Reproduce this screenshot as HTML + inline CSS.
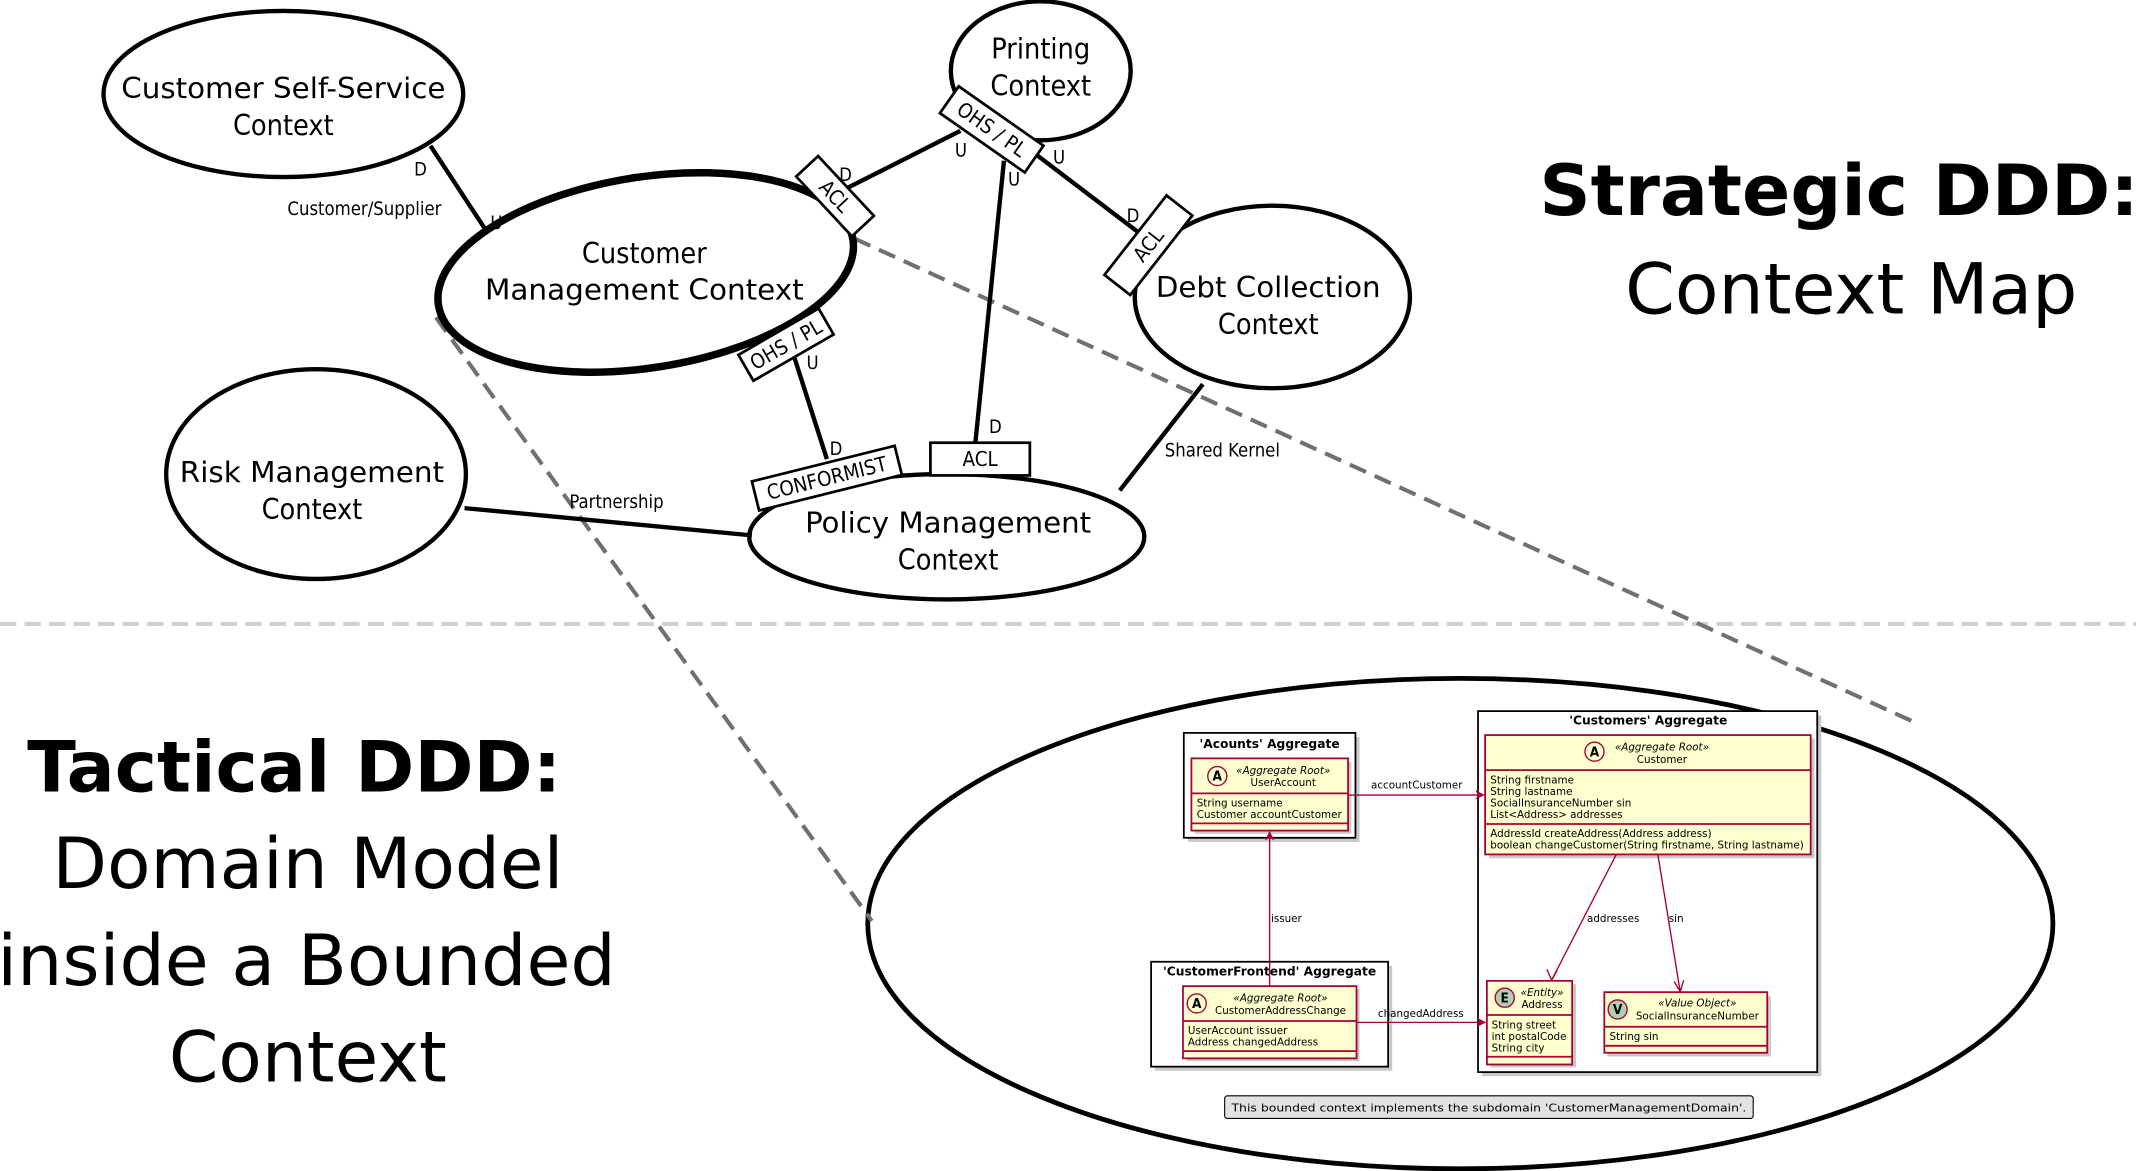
<!DOCTYPE html>
<html><head><meta charset="utf-8"><style>
html,body{margin:0;padding:0;background:#fff;}
svg{display:block;}
text{font-family:"DejaVu Sans Condensed","DejaVu Sans","Liberation Sans",sans-serif;}
.ctx{fill:#fff;stroke:#000;stroke-width:3.2;}
.ln{stroke:#000;stroke-width:3.2;fill:none;}
.lbl{font-size:21px;text-anchor:middle;}
.sm{font-size:13.5px;}
.badge{fill:#fff;stroke:#000;stroke-width:2;}
.bt{font-size:15px;text-anchor:middle;dominant-baseline:central;}
.agg{fill:#fff;stroke:#000;stroke-width:1.3;}
.sh{fill:#c8c8c8;}
.cls{fill:#FEFECE;stroke:#A80036;stroke-width:1.3;}
.dv{stroke:#A80036;stroke-width:1.3;}
.u{font-size:7.6px;font-family:"DejaVu Sans","Liberation Sans",sans-serif;}
.ub{font-size:9px;font-weight:bold;text-anchor:middle;font-family:"DejaVu Sans","Liberation Sans",sans-serif;}
.ar{stroke:#A80036;stroke-width:1;fill:none;}
</style></head><body>
<svg width="2136" height="1171" viewBox="0 0 1568 859.6" preserveAspectRatio="none" xmlns="http://www.w3.org/2000/svg">
<line x1="0" y1="458" x2="1568" y2="458" stroke="#d0d0d0" stroke-width="3" stroke-dasharray="12 6"/>

<ellipse cx="1072" cy="678" rx="435" ry="180" fill="#fff" stroke="#000" stroke-width="3.5"/>

<line x1="627" y1="175" x2="1405" y2="530" stroke="#707070" stroke-width="3" stroke-dasharray="13 7"/>
<line x1="320" y1="233" x2="640" y2="676" stroke="#707070" stroke-width="3" stroke-dasharray="13 7"/>

<ellipse class="ctx" cx="208" cy="69" rx="132" ry="61"/>
<ellipse class="ctx" cx="764" cy="52" rx="66" ry="51"/>
<ellipse class="ctx" cx="934" cy="218" rx="101" ry="67"/>
<ellipse class="ctx" cx="232" cy="348" rx="110" ry="77"/>
<ellipse class="ctx" cx="695" cy="394" rx="145" ry="46"/>
<ellipse cx="474" cy="200" rx="154" ry="70" transform="rotate(-9 474 200)" fill="#fff" stroke="#000" stroke-width="5.5"/>

<line class="ln" x1="316" y1="107" x2="358" y2="171"/>
<line class="ln" x1="622" y1="138" x2="705" y2="96"/>
<line class="ln" x1="737" y1="118" x2="716" y2="325"/>
<line class="ln" x1="760" y1="113" x2="835" y2="170"/>
<line class="ln" x1="583" y1="262" x2="607" y2="337"/>
<line class="ln" x1="883" y1="282" x2="822" y2="360"/>
<line class="ln" x1="341" y1="373" x2="552" y2="393"/>

<text class="lbl" x="208" y="72" textLength="238" lengthAdjust="spacingAndGlyphs">Customer Self-Service</text>
<text class="lbl" x="208" y="99">Context</text>
<text class="lbl" x="764" y="43">Printing</text>
<text class="lbl" x="764" y="70">Context</text>
<text class="lbl" x="473" y="193">Customer</text>
<text class="lbl" x="473" y="220" textLength="234" lengthAdjust="spacingAndGlyphs">Management Context</text>
<text class="lbl" x="931" y="218" textLength="165" lengthAdjust="spacingAndGlyphs">Debt Collection</text>
<text class="lbl" x="931" y="245">Context</text>
<text class="lbl" x="229" y="354" textLength="194" lengthAdjust="spacingAndGlyphs">Risk Management</text>
<text class="lbl" x="229" y="381">Context</text>
<text class="lbl" x="696" y="391" textLength="210" lengthAdjust="spacingAndGlyphs">Policy Management</text>
<text class="lbl" x="696" y="418">Context</text>

<text class="sm" x="304" y="129">D</text>
<text class="sm" x="211" y="158">Customer/Supplier</text>
<text class="sm" x="360" y="168">U</text>
<text class="sm" x="616" y="133">D</text>
<text class="sm" x="701" y="115">U</text>
<text class="sm" x="740" y="136">U</text>
<text class="sm" x="773" y="120">U</text>
<text class="sm" x="827" y="163">D</text>
<text class="sm" x="592" y="271">U</text>
<text class="sm" x="609" y="334">D</text>
<text class="sm" x="726" y="318">D</text>
<text class="sm" x="855" y="335">Shared Kernel</text>
<text class="sm" x="418" y="373">Partnership</text>

<g transform="translate(728,95) rotate(35)"><rect class="badge" x="-38" y="-12" width="76" height="24"/><text class="bt" x="0" y="0">OHS / PL</text></g>
<g transform="translate(613,144) rotate(47)"><rect class="badge" x="-30" y="-11" width="60" height="22"/><text class="bt" x="0" y="0">ACL</text></g>
<g transform="translate(843,180) rotate(-52)"><rect class="badge" x="-37" y="-12" width="74" height="24"/><text class="bt" x="0" y="0">ACL</text></g>
<g transform="translate(577,253) rotate(-30)"><rect class="badge" x="-34" y="-11" width="68" height="22"/><text class="bt" x="0" y="0">OHS / PL</text></g>
<g transform="translate(607,351) rotate(-14)"><rect class="badge" x="-54" y="-11" width="108" height="22"/><text class="bt" x="0" y="0">CONFORMIST</text></g>
<rect class="badge" x="683" y="325" width="73" height="24"/><text class="bt" x="719.5" y="337">ACL</text>

<text x="1350" y="158" font-size="52" font-weight="bold" text-anchor="middle" textLength="440" lengthAdjust="spacingAndGlyphs" style="font-family:'DejaVu Sans',sans-serif">Strategic DDD:</text>
<text x="1359" y="230" font-size="52" text-anchor="middle" textLength="332" lengthAdjust="spacingAndGlyphs" style="font-family:'DejaVu Sans',sans-serif">Context Map</text>
<text x="216" y="581" font-size="52" font-weight="bold" text-anchor="middle" textLength="392" lengthAdjust="spacingAndGlyphs" style="font-family:'DejaVu Sans',sans-serif">Tactical DDD:</text>
<text x="226" y="652" font-size="52" text-anchor="middle" textLength="375" lengthAdjust="spacingAndGlyphs" style="font-family:'DejaVu Sans',sans-serif">Domain Model</text>
<text x="225" y="723" font-size="52" text-anchor="middle" textLength="454" lengthAdjust="spacingAndGlyphs" style="font-family:'DejaVu Sans',sans-serif">inside a Bounded</text>
<text x="226" y="794" font-size="52" text-anchor="middle" textLength="204" lengthAdjust="spacingAndGlyphs" style="font-family:'DejaVu Sans',sans-serif">Context</text>

<rect class="sh" x="872" y="541" width="126" height="77"/>
<rect class="agg" x="869" y="538" width="126" height="77"/>
<text class="ub" x="932" y="549">'Acounts' Aggregate</text>
<rect class="sh" x="1088" y="525" width="249" height="265"/>
<rect class="agg" x="1085" y="522" width="249" height="265"/>
<text class="ub" x="1210" y="532">'Customers' Aggregate</text>
<rect class="sh" x="848" y="709" width="174" height="77"/>
<rect class="agg" x="845" y="706" width="174" height="77"/>
<text class="ub" x="932" y="716">'CustomerFrontend' Aggregate</text>

<rect class="sh" x="877" y="559" width="115" height="53"/>
<rect class="cls" x="874.6" y="556.7" width="115" height="53"/>
<line class="dv" x1="874.6" y1="582.4" x2="989.6" y2="582.4"/>
<line class="dv" x1="874.6" y1="604.4" x2="989.6" y2="604.4"/>
<circle cx="893.6" cy="569.7" r="7" fill="#FEFECE" stroke="#A80036"/>
<text x="893.6" y="573" font-size="10" font-weight="bold" text-anchor="middle">A</text>
<text class="u" x="942" y="568" text-anchor="middle" font-style="italic">«Aggregate Root»</text>
<text class="u" x="942" y="577" text-anchor="middle">UserAccount</text>
<text class="u" x="878.5" y="592">String username</text>
<text class="u" x="878.5" y="600.5">Customer accountCustomer</text>

<rect class="sh" x="1093" y="542" width="239" height="88"/>
<rect class="cls" x="1090.2" y="539.6" width="239" height="87.6"/>
<line class="dv" x1="1090.2" y1="565.3" x2="1329.2" y2="565.3"/>
<line class="dv" x1="1090.2" y1="604.9" x2="1329.2" y2="604.9"/>
<circle cx="1170.5" cy="551.8" r="7" fill="#FEFECE" stroke="#A80036"/>
<text x="1170.5" y="555.2" font-size="10" font-weight="bold" text-anchor="middle">A</text>
<text class="u" x="1220" y="551" text-anchor="middle" font-style="italic">«Aggregate Root»</text>
<text class="u" x="1220" y="560" text-anchor="middle">Customer</text>
<text class="u" x="1094" y="575">String firstname</text>
<text class="u" x="1094" y="583.5">String lastname</text>
<text class="u" x="1094" y="592">SocialInsuranceNumber sin</text>
<text class="u" x="1094" y="600.5">List&lt;Address&gt; addresses</text>
<text class="u" x="1094" y="614.5">AddressId createAddress(Address address)</text>
<text class="u" x="1094" y="623">boolean changeCustomer(String firstname, String lastname)</text>

<rect class="sh" x="871" y="726" width="127" height="53"/>
<rect class="cls" x="868.4" y="723.9" width="127.4" height="53"/>
<line class="dv" x1="868.4" y1="749.5" x2="995.8" y2="749.5"/>
<line class="dv" x1="868.4" y1="771.6" x2="995.8" y2="771.6"/>
<circle cx="878.5" cy="736.6" r="7" fill="#FEFECE" stroke="#A80036"/>
<text x="878.5" y="740" font-size="10" font-weight="bold" text-anchor="middle">A</text>
<text class="u" x="940" y="735" text-anchor="middle" font-style="italic">«Aggregate Root»</text>
<text class="u" x="940" y="744.5" text-anchor="middle">CustomerAddressChange</text>
<text class="u" x="872" y="759">UserAccount issuer</text>
<text class="u" x="872" y="767.5">Address changedAddress</text>

<rect class="sh" x="1094" y="722.5" width="63" height="61"/>
<rect class="cls" x="1091.5" y="720" width="62.6" height="61.4"/>
<line class="dv" x1="1091.5" y1="745.1" x2="1154.1" y2="745.1"/>
<line class="dv" x1="1091.5" y1="775.7" x2="1154.1" y2="775.7"/>
<circle cx="1104.6" cy="732.4" r="7" fill="#ADD1B2" stroke="#A80036"/>
<text x="1104.6" y="735.8" font-size="10" font-weight="bold" text-anchor="middle">E</text>
<text class="u" x="1132" y="731" text-anchor="middle" font-style="italic">«Entity»</text>
<text class="u" x="1132" y="740" text-anchor="middle">Address</text>
<text class="u" x="1095" y="755">String street</text>
<text class="u" x="1095" y="763.5">int postalCode</text>
<text class="u" x="1095" y="772">String city</text>

<rect class="sh" x="1180" y="731" width="120" height="44.5"/>
<rect class="cls" x="1177.7" y="728.3" width="119.6" height="44.5"/>
<line class="dv" x1="1177.7" y1="753.7" x2="1297.3" y2="753.7"/>
<line class="dv" x1="1177.7" y1="767.7" x2="1297.3" y2="767.7"/>
<circle cx="1187.5" cy="741" r="7" fill="#ADD1B2" stroke="#A80036"/>
<text x="1187.5" y="744.4" font-size="10" font-weight="bold" text-anchor="middle">V</text>
<text class="u" x="1246" y="739" text-anchor="middle" font-style="italic">«Value Object»</text>
<text class="u" x="1246" y="748.5" text-anchor="middle">SocialInsuranceNumber</text>
<text class="u" x="1181.5" y="763.5">String sin</text>

<line class="ar" x1="989.6" y1="583.6" x2="1089" y2="583.6"/>
<path d="M1083 580 L1090 583.6 L1083 587 L1085 583.6 Z" fill="#A80036"/>
<text class="u" x="1040" y="579" text-anchor="middle">accountCustomer</text>
<line class="ar" x1="932" y1="723.9" x2="932" y2="611"/>
<path d="M928.5 617 L932 610 L935.5 617 L932 615 Z" fill="#A80036"/>
<text class="u" x="933" y="677">issuer</text>
<line class="ar" x1="995.8" y1="750.5" x2="1090.5" y2="750.5"/>
<path d="M1084 747 L1091 750.5 L1084 754 L1086 750.5 Z" fill="#A80036"/>
<text class="u" x="1043" y="746.5" text-anchor="middle">changedAddress</text>
<line class="ar" x1="1186.5" y1="627.2" x2="1139" y2="719.5"/>
<path d="M1135.5 711.5 L1139 719.5 L1143 712.5" class="ar"/>
<text class="u" x="1165" y="677">addresses</text>
<line class="ar" x1="1217" y1="627.2" x2="1233.4" y2="728"/>
<path d="M1229 720.5 L1233.4 728 L1236 719.5" class="ar"/>
<text class="u" x="1225" y="677">sin</text>

<rect x="899" y="804.4" width="388" height="16.6" rx="2" fill="#e2e2e2" stroke="#000" stroke-width="0.8"/>
<text class="u" x="1093" y="816" text-anchor="middle" textLength="378" lengthAdjust="spacingAndGlyphs">This bounded context implements the subdomain 'CustomerManagementDomain'.</text>
</svg>
</body></html>
